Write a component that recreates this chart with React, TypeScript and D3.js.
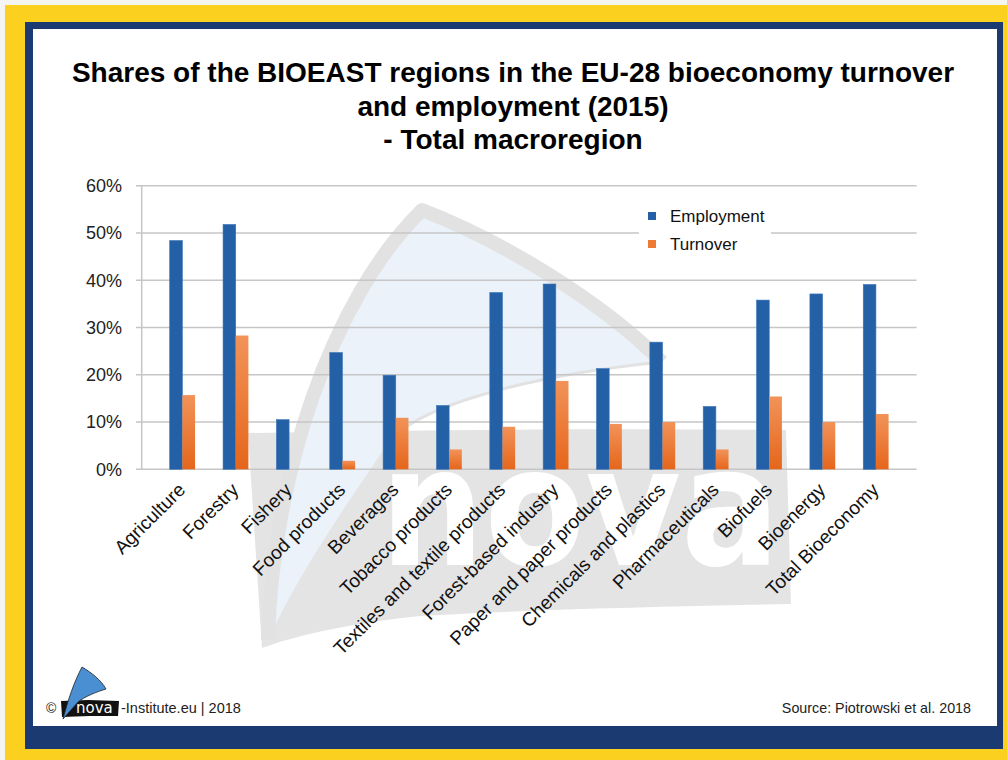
import React from "react";
import * as d3 from "d3";

const categories = [
  "Agriculture",
  "Forestry",
  "Fishery",
  "Food products",
  "Beverages",
  "Tobacco products",
  "Textiles and textile products",
  "Forest-based industry",
  "Paper and paper products",
  "Chemicals and plastics",
  "Pharmaceuticals",
  "Biofuels",
  "Bioenergy",
  "Total Bioeconomy",
];
const employment = [48.4, 51.8, 10.5, 24.7, 19.9, 13.5, 37.4, 39.2, 21.3, 26.9, 13.3, 35.8, 37.1, 39.1];
const turnover = [15.7, 28.3, 0, 1.8, 10.9, 4.2, 9.0, 18.7, 9.6, 10.0, 4.2, 15.4, 10.0, 11.7];
const yTicks = [0, 10, 20, 30, 40, 50, 60];
const seriesNames = ["Employment", "Turnover"];
const titleLines = [
  "Shares of the BIOEAST regions in the EU-28 bioeconomy turnover",
  "and employment (2015)",
  "- Total macroregion",
];

const W = 1007;
const H = 760;
const FONT = "'Liberation Sans', Arial, Helvetica, sans-serif";

export default function App() {
  const x = d3
    .scaleBand<string>()
    .domain(categories)
    .range([141.7, 916.6])
    .paddingInner(0.525)
    .paddingOuter(0.525);
  const sub = d3
    .scaleBand<string>()
    .domain(seriesNames)
    .range([0, x.bandwidth()]);
  const y = d3.scaleLinear().domain([0, 60]).range([469.3, 185.7]);

  return (
    <svg
      width={W}
      height={H}
      style={{ position: "absolute", left: 0, top: 0 }}
      fontFamily={FONT}
    >
      <defs>
        <linearGradient id="orangeGrad" x1="0" y1="0" x2="0" y2="1">
          <stop offset="0" stopColor="#f29359" />
          <stop offset="1" stopColor="#e5661b" />
        </linearGradient>
      </defs>
      {/* frame */}
      <rect x={0} y={0} width={W} height={H} fill="#f4f4f0" />
      <rect x={5} y={5} width={W - 5} height={H - 5} fill="#fcd01f" />
      <rect x={25} y={22} width={978} height={727} fill="#1b3a72" />
      <rect x={33} y={29} width={964} height={697} fill="#ffffff" />

      {/* watermark */}
      <g>
        <path
          d="M248,433 C420,430 600,428 786,430 L791,604 C650,607 520,610 420,616 C360,622 300,634 262,648 Z"
          fill="#e4e4e4"
        />
        <path
          d="M268,640 C272,480 330,300 422,210 C500,240 600,300 662,362 C560,372 430,398 390,440 C350,500 300,570 268,640 Z"
          fill="#ebf2fa"
        />
        <path
          d="M268,640 C272,480 330,300 422,210 C500,240 600,300 662,362"
          fill="none"
          stroke="#e2e2e2"
          strokeWidth={14}
          strokeLinejoin="round"
        />
        <path
          d="M662,362 C560,372 430,398 390,440"
          fill="none"
          stroke="#e2e2e2"
          strokeWidth={3}
        />
        <text
          x={380}
          y={565}
          fontFamily="'DejaVu Sans', sans-serif"
          fontWeight="bold"
          fontSize={165}
          fill="#ffffff"
          textLength={400}
          lengthAdjust="spacingAndGlyphs"
        >
          nova
        </text>
      </g>

      {/* title */}
      {titleLines.map((t, i) => (
        <text
          key={i}
          x={513}
          y={82 + i * 33.5}
          textAnchor="middle"
          fontSize={28}
          fontWeight="bold"
          fill="#000"
        >
          {t}
        </text>
      ))}

      {/* gridlines */}
      {yTicks.map((t) => (
        <g key={t}>
          <line
            x1={136}
            x2={916.6}
            y1={y(t)}
            y2={y(t)}
            stroke="#c6c6c6"
            strokeWidth={1.5}
          />
          <text
            x={122}
            y={y(t)}
            dy="0.35em"
            textAnchor="end"
            fontSize={18}
            fill="#222"
          >
            {t}%
          </text>
        </g>
      ))}
      <line x1={141.7} x2={141.7} y1={y(60)} y2={y(0)} stroke="#c6c6c6" strokeWidth={1.5} />

      {/* legend background */}
      <rect x={639} y={200} width={132} height={58} fill="#ffffff" />
      {seriesNames.map((s, i) => (
        <g key={s}>
          <rect
            x={648}
            y={212 + i * 28}
            width={8}
            height={8}
            fill={i === 0 ? "#2360a5" : "#ee7b35"}
          />
          <text x={670} y={216 + i * 28} dy="0.35em" fontSize={17} fill="#111">
            {s}
          </text>
        </g>
      ))}

      {/* bars */}
      {categories.map((c, i) => {
        const x0 = x(c)!;
        return (
          <g key={c}>
            <rect
              x={x0 + sub("Employment")!}
              y={y(employment[i])}
              width={sub.bandwidth()}
              height={y(0) - y(employment[i])}
              fill="#2360a5"
              stroke="#3b74b8"
              strokeWidth={0.6}
            />
            {turnover[i] > 0 && (
              <rect
                x={x0 + sub("Turnover")!}
                y={y(turnover[i])}
                width={sub.bandwidth()}
                height={y(0) - y(turnover[i])}
                fill="url(#orangeGrad)"
              />
            )}
          </g>
        );
      })}

      {/* x labels */}
      {categories.map((c) => {
        const cx = x(c)! + x.bandwidth() / 2 + 4;
        const cy = 491;
        return (
          <text
            key={c}
            x={cx}
            y={cy}
            textAnchor="end"
            fontSize={19}
            fill="#111"
            transform={`rotate(-45 ${cx} ${cy})`}
          >
            {c}
          </text>
        );
      })}

      {/* footer */}
      <text x={46} y={708} dy="0.35em" fontSize={14} fill="#222">
        ©
      </text>
      <path
        d="M61,701 L88,700 L119,701 L118,716 L90,716 L62,717 Z"
        fill="#111"
      />
      <path
        d="M63,719 C68,700 74,682 82,667 C92,673 101,680 106,689 C96,692 84,697 78,702 Z"
        fill="#4a8fd2"
        stroke="#222"
        strokeWidth={0.8}
      />
      <text x={76} y={713} fontSize={15} fill="#fff" fontFamily="'DejaVu Sans', sans-serif">
        nova
      </text>
      <text x={121} y={708} dy="0.35em" fontSize={14.5} fill="#222">
        -Institute.eu | 2018
      </text>
      <text x={971} y={708} dy="0.35em" textAnchor="end" fontSize={14.3} fill="#222">
        Source: Piotrowski et al. 2018
      </text>
    </svg>
  );
}
